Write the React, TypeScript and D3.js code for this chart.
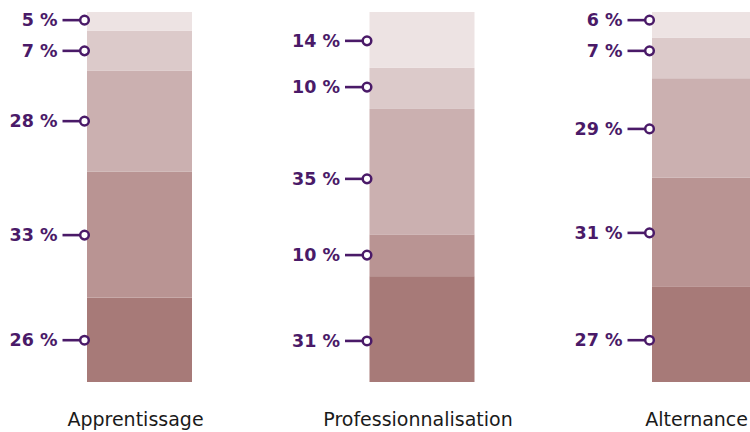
import React from "react";
import * as d3 from "d3";

const W = 750;
const H = 432;

const categories = ["Apprentissage", "Professionnalisation", "Alternance"];

// Displayed percentages, bottom segment first
const labelsApprentissage = [26, 33, 28, 7, 5];
const labelsProfessionnalisation = [31, 10, 35, 10, 14];
const labelsAlternance = [27, 31, 29, 7, 6];

// Segment sizes as drawn (share of bar height, %), bottom segment first
const sharesApprentissage = [22.8, 34.1, 27.3, 10.7, 5.1];
const sharesProfessionnalisation = [28.6, 11.3, 33.9, 11.1, 15.1];
const sharesAlternance = [25.7, 29.5, 26.9, 10.9, 7.0];

// Where each label points, on the same 0–100 scale, bottom segment first
const anchorsApprentissage = [11.3, 39.7, 70.5, 89.5, 97.8];
const anchorsProfessionnalisation = [11.1, 34.3, 54.9, 79.7, 92.2];
const anchorsAlternance = [11.3, 40.3, 68.4, 89.5, 97.8];

const segmentColors = ["#a77a78", "#b99493", "#cbb0b0", "#dccaca", "#ede3e3"];

const labelColor = "#4a1a68";

const labels = [labelsApprentissage, labelsProfessionnalisation, labelsAlternance];
const shares = [sharesApprentissage, sharesProfessionnalisation, sharesAlternance];
const anchors = [anchorsApprentissage, anchorsProfessionnalisation, anchorsAlternance];

export default function App() {
  const barWidth = 105;
  const x = d3.scalePoint<string>().domain(categories).range([87, 652]);
  const y = d3.scaleLinear().domain([0, 100]).range([382, 12]);

  return (
    <svg
      width={W}
      height={H}
      style={{ position: "absolute", left: 0, top: 0, display: "block" }}
    >
      <rect x={0} y={0} width={W} height={H} fill="#ffffff" />
      {categories.map((cat, ci) => {
        const x0 = x(cat)!;
        const stack = d3.cumsum(shares[ci]);
        return (
          <g key={cat}>
            {shares[ci].map((s, si) => {
              const top = y(stack[si]);
              const bottom = y(stack[si] - s);
              return (
                <rect
                  key={si}
                  x={x0}
                  y={top}
                  width={barWidth}
                  height={bottom - top}
                  fill={segmentColors[si]}
                />
              );
            })}
            {anchors[ci].map((a, si) => {
              const mid = y(a);
              const cx = x0 - 2.5;
              return (
                <g key={"l" + si}>
                  <line
                    x1={cx - 22}
                    x2={cx - 4}
                    y1={mid}
                    y2={mid}
                    stroke={labelColor}
                    strokeWidth={2.6}
                  />
                  <circle
                    cx={cx}
                    cy={mid}
                    r={4.3}
                    fill="#ffffff"
                    stroke={labelColor}
                    strokeWidth={2.5}
                  />
                  <text
                    x={cx - 27}
                    y={mid}
                    textAnchor="end"
                    dominantBaseline="central"
                    fontFamily="DejaVu Sans"
                    fontWeight="bold"
                    fontSize={17.5}
                    fill={labelColor}
                  >
                    {labels[ci][si] + " %"}
                  </text>
                </g>
              );
            })}
            <text
              x={ci === categories.length - 1 ? W - 2 : x0 + barWidth / 2 - 4}
              y={426}
              textAnchor={ci === categories.length - 1 ? "end" : "middle"}
              fontFamily="DejaVu Sans"
              fontSize={19}
              fill="#1a1a1a"
            >
              {cat}
            </text>
          </g>
        );
      })}
    </svg>
  );
}
